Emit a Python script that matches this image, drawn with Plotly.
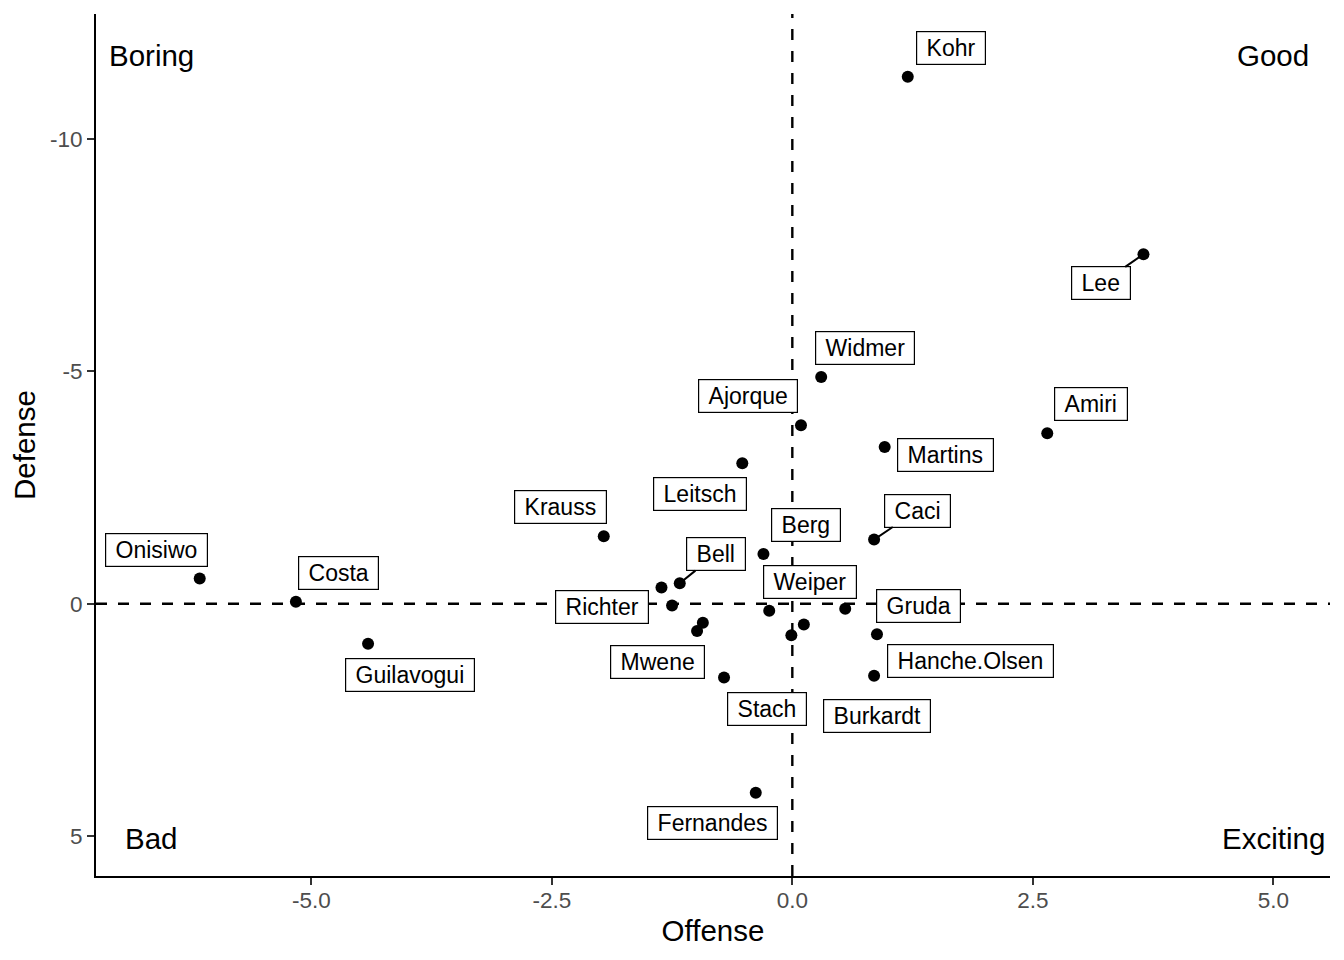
import plotly.graph_objects as go

# ---- data ----
players = ["Kohr", "Lee", "Widmer", "Ajorque", "Martins", "Amiri", "Leitsch",
           "Krauss", "Caci", "Berg", "Onisiwo", "Costa", "Bell", "", "Richter",
           "Weiper", "Gruda", "Guilavogui", "", "Mwene", "", "",
           "Hanche.Olsen", "Stach", "Burkardt", "Fernandes"]
offense = [1.20, 3.65, 0.30, 0.09, 0.96, 2.65, -0.52,
           -1.96, 0.85, -0.30, -6.16, -5.16, -1.17, -1.36, -1.25,
           -0.24, 0.55, -4.41, -0.93, -0.99, -0.01, 0.12,
           0.88, -0.71, 0.85, -0.38]
defense = [-11.34, -7.52, -4.88, -3.84, -3.37, -3.67, -3.02,
           -1.45, -1.38, -1.07, -0.54, -0.04, -0.44, -0.35, 0.04,
           0.15, 0.11, 0.86, 0.41, 0.59, 0.68, 0.45,
           0.66, 1.59, 1.55, 4.07]

quadrant_text = ["Boring", "Good", "Bad", "Exciting"]
quadrant_x = [-6.66, 5.0, -6.66, 5.0]
quadrant_y = [-11.8, -11.8, 5.05, 5.05]

x_ticks = [-5.0, -2.5, 0.0, 2.5, 5.0]
x_tick_text = ["-5.0", "-2.5", "0.0", "2.5", "5.0"]
y_ticks = [-10, -5, 0, 5]
y_tick_text = ["-10", "-5", "0", "5"]

# ---- label placement (pixel offsets of label centre from its point; layout only) ----
label_offset = {
    "Kohr": (43, -29), "Lee": (-42, 29), "Widmer": (44, -29), "Ajorque": (-53, -29),
    "Martins": (61, 8), "Amiri": (44, -29), "Leitsch": (-42, 31), "Krauss": (-43, -29),
    "Caci": (43, -29), "Berg": (43, -29), "Onisiwo": (-43, -29), "Costa": (43, -29),
    "Bell": (36, -29), "Richter": (-70, 1), "Weiper": (41, -29), "Gruda": (73, -3),
    "Guilavogui": (42, 31), "Mwene": (-40, 31), "Hanche.Olsen": (94, 27),
    "Stach": (43, 31), "Burkardt": (3, 40), "Fernandes": (-43, 30),
}
with_segment = {"Lee", "Caci", "Bell"}

FONT = "Liberation Sans, Arial, Helvetica, sans-serif"

fig = go.Figure()

fig.add_trace(go.Scatter(
    x=offense, y=defense, mode="markers",
    marker=dict(color="black", size=12),
    text=players, hoverinfo="text", showlegend=False,
))

annotations = []
for name, xv, yv in zip(players, offense, defense):
    if not name:
        continue
    dx, dy = label_offset[name]
    common = dict(
        x=xv, y=yv, xref="x", yref="y",
        text="\u00a0" + name + "\u00a0",
        font=dict(family=FONT, size=23, color="black"),
        bgcolor="white", bordercolor="black", borderwidth=1.2, borderpad=3,
    )
    if name in with_segment:
        annotations.append(dict(common, showarrow=True, arrowhead=0,
                                arrowwidth=2, arrowcolor="black",
                                ax=dx, ay=dy, standoff=0))
    else:
        annotations.append(dict(common, showarrow=False,
                                xshift=dx, yshift=-dy))

for t, xv, yv in zip(quadrant_text, quadrant_x, quadrant_y):
    annotations.append(dict(x=xv, y=yv, xref="x", yref="y", text=t,
                            showarrow=False,
                            font=dict(family=FONT, size=29.5, color="black")))

DASH = dict(color="black", width=2.4, dash="11px,11px")

fig.update_layout(
    width=1344, height=960,
    paper_bgcolor="white", plot_bgcolor="white",
    margin=dict(l=88, r=22, t=6, b=92),
    font=dict(family=FONT),
    annotations=annotations,
    shapes=[
        dict(type="line", xref="paper", yref="y", x0=0, x1=1, y0=0, y1=0,
             line=DASH, layer="below"),
        dict(type="line", xref="x", yref="paper", x0=0, x1=0, y0=0, y1=1,
             line=DASH, layer="below"),
    ],
)

fig.update_xaxes(
    range=[-7.238, 5.589], showgrid=False, zeroline=False,
    showline=True, linecolor="black", linewidth=2,
    ticks="outside", ticklen=7, tickwidth=2, tickcolor="#333333",
    tickvals=x_ticks, ticktext=x_tick_text, ticklabelstandoff=-4,
    tickfont=dict(family=FONT, size=22.5, color="#4D4D4D"),
    title=dict(text="Offense", font=dict(family=FONT, size=29.5, color="black"),
               standoff=8),
)
fig.update_yaxes(
    range=[5.86, -12.69], showgrid=False, zeroline=False,
    showline=True, linecolor="black", linewidth=2,
    ticks="outside", ticklen=7, tickwidth=2, tickcolor="#333333",
    tickvals=y_ticks, ticktext=y_tick_text,
    tickfont=dict(family=FONT, size=22.5, color="#4D4D4D"),
    title=dict(text="Defense", font=dict(family=FONT, size=29.5, color="black"),
               standoff=10),
)

fig.write_html("out.html")
